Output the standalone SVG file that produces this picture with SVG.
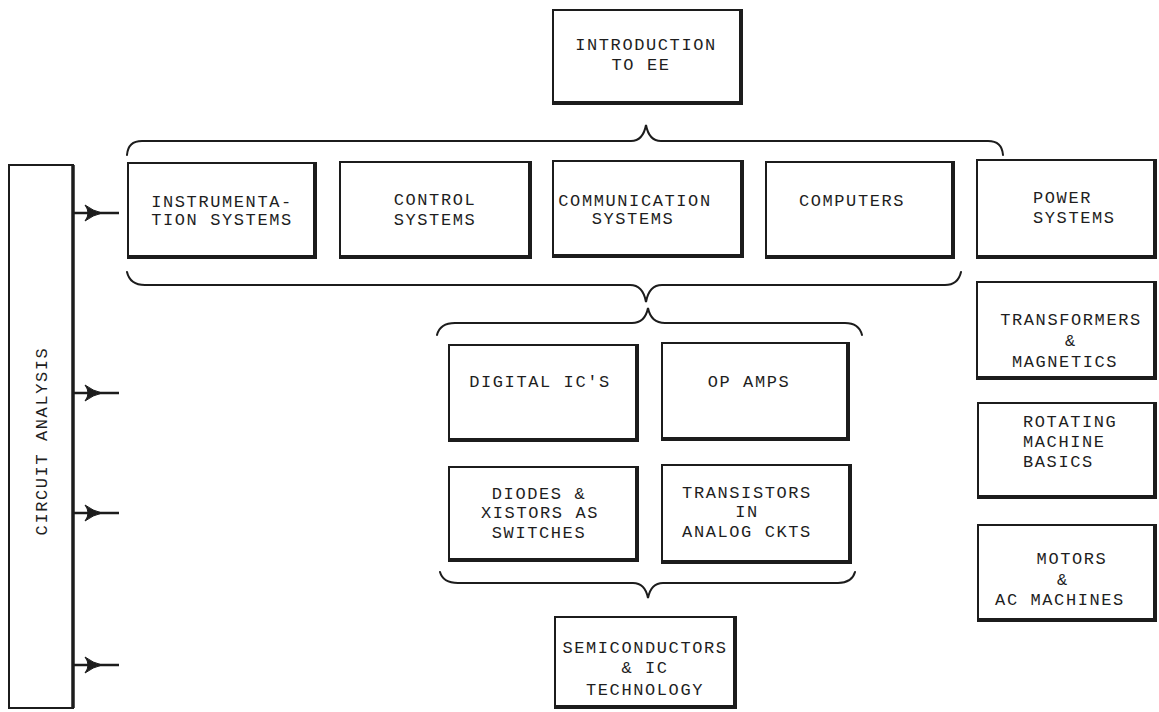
<svg xmlns="http://www.w3.org/2000/svg" width="1159" height="712" viewBox="0 0 1159 712">
  <defs>
    <style>
      .box { fill: #ffffff; stroke: #1c1c1c; stroke-width: 2; }
      .shade { fill: none; stroke: #1c1c1c; stroke-width: 4; stroke-linecap: square; }
      .lbl { font-family: "Liberation Mono", "DejaVu Sans Mono", monospace; font-size: 17px; letter-spacing: 1.6px; fill: #1e1e1e; text-anchor: middle; }
      .lbl-start { text-anchor: start; }
      .brace { fill: none; stroke: #1c1c1c; stroke-width: 2; stroke-linecap: round; }
      .shaft { fill: none; stroke: #1c1c1c; stroke-width: 2.5; }
      .head { fill: #1c1c1c; stroke: #1c1c1c; stroke-width: 1; stroke-linejoin: round; }
    </style>
    <!-- arrow leaving the circuit analysis bar, drawn from its origin to the right -->
    <g id="feed-arrow">
      <path class="shaft" d="M0 0 H45"/>
      <path class="head" d="M11 -8 Q19 -2 28 0 Q19 2 11 8 Q17 0 11 -8 Z"/>
    </g>
  </defs>

  <rect width="1159" height="712" fill="#ffffff"/>

  <!-- connectors: braces and arrows -->
  <g id="connectors">
    <path class="brace" d="M127 155 Q128 141 142 141 L631 141 Q643 141 646 125 Q649 141 661 141 L988 141 Q1002 141 1003 155"/>
    <path class="brace" d="M127 272 Q130 285 145 285 L630 285 Q643 285 646 302 Q649 285 662 285 L945 285 Q958 285 961 272"/>
    <path class="brace" d="M437 335 Q440 323 455 323 L632 323 Q645 323 648 308 Q651 323 665 323 L845 323 Q859 323 862 335"/>
    <path class="brace" d="M440 572 Q443 583 458 583 L633 583 Q645 583 648 598 Q651 583 663 583 L838 583 Q852 583 855 572"/>
    <use href="#feed-arrow" x="74" y="213"/>
    <use href="#feed-arrow" x="74" y="393"/>
    <use href="#feed-arrow" x="74" y="513"/>
    <use href="#feed-arrow" x="74" y="665"/>
  </g>

  <g id="circuit-analysis">
    <rect x="9" y="165" width="64" height="543" fill="#ffffff" stroke="#1c1c1c" stroke-width="2"/>
    <path d="M73 165 V708" fill="none" stroke="#1c1c1c" stroke-width="3.5"/>
    <text class="lbl" transform="translate(47,441) rotate(-90)">CIRCUIT ANALYSIS</text>
  </g>

  <g id="intro-ee">
    <rect class="box" x="553" y="10" width="188" height="93"/>
    <path class="shade" d="M741 11 V103 H554"/>
    <text class="lbl" x="646" y="50">INTRODUCTION</text>
    <text class="lbl" x="641" y="70">TO EE</text>
  </g>

  <g id="instrumentation">
    <rect class="box" x="128" y="163" width="187" height="94"/>
    <path class="shade" d="M315 164 V257 H129"/>
    <text class="lbl" x="222" y="207">INSTRUMENTA-</text>
    <text class="lbl" x="222" y="225">TION SYSTEMS</text>
  </g>

  <g id="control">
    <rect class="box" x="340" y="162" width="190" height="95"/>
    <path class="shade" d="M530 163 V257 H341"/>
    <text class="lbl" x="435" y="205">CONTROL</text>
    <text class="lbl" x="435" y="225">SYSTEMS</text>
  </g>

  <g id="communication">
    <rect class="box" x="553" y="161" width="189" height="95"/>
    <path class="shade" d="M742 162 V256 H554"/>
    <text class="lbl" x="635" y="206">COMMUNICATION</text>
    <text class="lbl" x="633" y="224">SYSTEMS</text>
  </g>

  <g id="computers">
    <rect class="box" x="766" y="162" width="187" height="95"/>
    <path class="shade" d="M953 163 V257 H767"/>
    <text class="lbl" x="852" y="206">COMPUTERS</text>
  </g>

  <g id="power-systems">
    <rect class="box" x="977" y="160" width="178" height="97"/>
    <path class="shade" d="M1155 161 V257 H978"/>
    <text class="lbl lbl-start" x="1033" y="203">POWER</text>
    <text class="lbl lbl-start" x="1033" y="223">SYSTEMS</text>
  </g>

  <g id="transformers">
    <rect class="box" x="977" y="282" width="178" height="96"/>
    <path class="shade" d="M1155 283 V378 H978"/>
    <text class="lbl" x="1071" y="325">TRANSFORMERS</text>
    <text class="lbl" x="1071" y="346">&amp;</text>
    <text class="lbl" x="1065" y="367">MAGNETICS</text>
  </g>

  <g id="rotating-machines">
    <rect class="box" x="978" y="403" width="177" height="94"/>
    <path class="shade" d="M1155 404 V497 H979"/>
    <text class="lbl lbl-start" x="1023" y="427">ROTATING</text>
    <text class="lbl lbl-start" x="1023" y="447">MACHINE</text>
    <text class="lbl lbl-start" x="1023" y="467">BASICS</text>
  </g>

  <g id="motors">
    <rect class="box" x="978" y="525" width="177" height="95"/>
    <path class="shade" d="M1155 526 V620 H979"/>
    <text class="lbl" x="1072" y="564">MOTORS</text>
    <text class="lbl" x="1063" y="585">&amp;</text>
    <text class="lbl" x="1060" y="605">AC MACHINES</text>
  </g>

  <g id="digital-ics">
    <rect class="box" x="449" y="345" width="188" height="95"/>
    <path class="shade" d="M637 346 V440 H450"/>
    <text class="lbl" x="540" y="387">DIGITAL IC'S</text>
  </g>

  <g id="op-amps">
    <rect class="box" x="662" y="343" width="186" height="96"/>
    <path class="shade" d="M848 344 V439 H663"/>
    <text class="lbl" x="749" y="387">OP AMPS</text>
  </g>

  <g id="diodes-switches">
    <rect class="box" x="449" y="467" width="188" height="93"/>
    <path class="shade" d="M637 468 V560 H450"/>
    <text class="lbl" x="539" y="499">DIODES &amp;</text>
    <text class="lbl" x="540" y="518">XISTORS AS</text>
    <text class="lbl" x="539" y="538">SWITCHES</text>
  </g>

  <g id="analog-transistors">
    <rect class="box" x="662" y="465" width="188" height="97"/>
    <path class="shade" d="M850 466 V562 H663"/>
    <text class="lbl" x="747" y="498">TRANSISTORS</text>
    <text class="lbl" x="747" y="517">IN</text>
    <text class="lbl" x="747" y="537">ANALOG CKTS</text>
  </g>

  <g id="semiconductors">
    <rect class="box" x="555" y="617" width="180" height="90"/>
    <path class="shade" d="M735 618 V707 H556"/>
    <text class="lbl" x="645" y="653">SEMICONDUCTORS</text>
    <text class="lbl" x="645" y="673">&amp; IC</text>
    <text class="lbl" x="645" y="695">TECHNOLOGY</text>
  </g>
</svg>
